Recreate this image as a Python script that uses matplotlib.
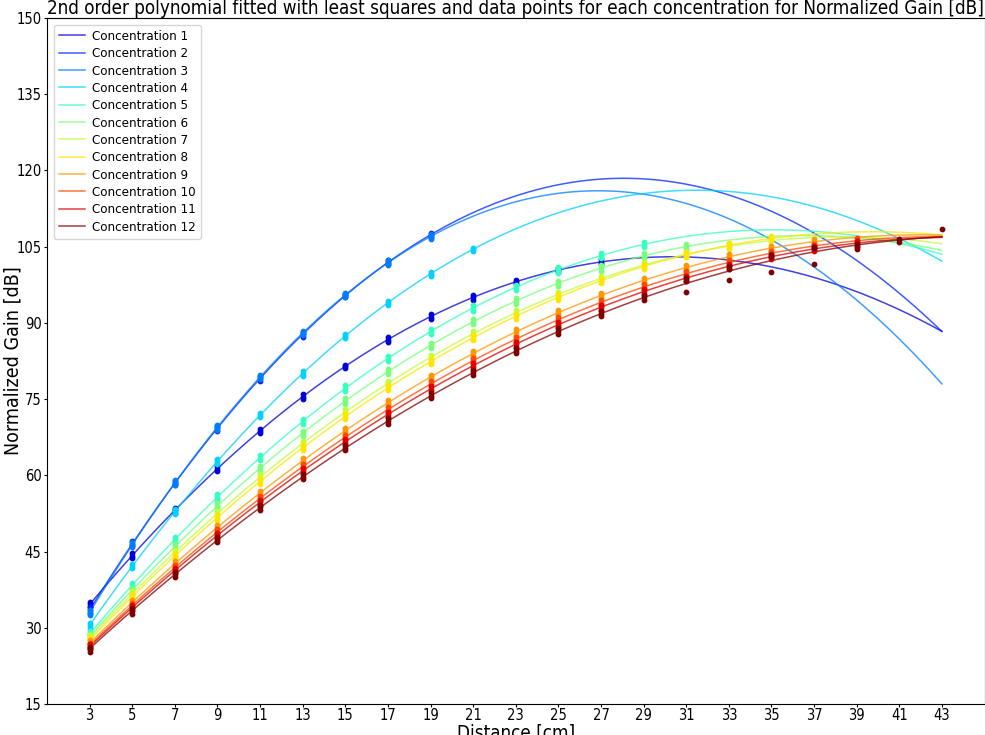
import matplotlib
matplotlib.use("Agg")
import matplotlib.pyplot as plt
from matplotlib import font_manager
import numpy as np

# distances where the gain was measured
distances = [3, 5, 7, 9, 11, 13, 15, 17, 19, 21, 23, 25, 27, 29, 31, 33, 35, 37, 39, 41, 43]

# normalized gain [dB], one row of replicates per distance (starting at 3 cm)
gain_c1 = [[34.1, 34.6, 35.0], [43.8, 44.2, 44.7], [52.6, 53.2, 53.6], [60.9, 61.3, 61.8],
           [68.4, 68.8, 69.1], [75.0, 75.5, 76.0], [81.1, 81.5, 81.8], [86.2, 86.7, 87.2],
           [90.8, 91.2, 91.7], [94.6, 95.0, 95.5], [97.6, 98.1, 98.5], [100.0, 100.4, 100.8],
           [101.5, 102.0, 102.5]]
gain_c2 = [[33.0, 33.5, 34.0], [46.0, 46.5, 47.0], [58.0, 58.4, 58.9], [68.8, 69.3, 69.8],
           [78.6, 79.1, 79.5], [87.3, 87.8, 88.2], [95.0, 95.4, 95.7], [101.5, 101.9, 102.3],
           [107.0, 107.3, 107.7]]
gain_c3 = [[32.5, 33.0, 33.5], [45.9, 46.3, 46.8], [58.0, 58.5, 59.0], [69.0, 69.5, 70.0],
           [78.9, 79.3, 79.8], [87.6, 88.0, 88.4], [95.1, 95.5, 95.9], [101.4, 101.8, 102.3],
           [106.6, 107.0, 107.4]]
gain_c4 = [[30.0, 30.5, 31.0], [41.7, 42.1, 42.5], [52.4, 52.9, 53.3], [62.3, 62.8, 63.2],
           [71.4, 71.8, 72.3], [79.6, 80.0, 80.5], [87.0, 87.4, 87.9], [93.5, 94.0, 94.4],
           [99.3, 99.7, 100.0], [104.2, 104.5, 104.8]]
gain_c5 = [[28.3, 28.8, 29.3], [37.9, 38.4, 38.9], [46.9, 47.4, 47.9], [55.2, 55.7, 56.3],
           [63.0, 63.5, 64.0], [70.1, 70.6, 71.1], [76.6, 77.1, 77.7], [82.5, 83.0, 83.5],
           [87.8, 88.3, 88.8], [92.4, 93.0, 93.5], [96.5, 97.0, 97.5], [99.9, 100.4, 101.0],
           [102.7, 103.2, 103.8], [104.9, 105.4, 106.0]]
gain_c6 = [[27.8, 28.3, 28.8], [36.9, 37.4, 37.9], [45.5, 46.0, 46.5], [53.5, 54.0, 54.5],
           [60.9, 61.4, 61.9], [67.8, 68.3, 68.8], [74.1, 74.6, 75.2], [79.9, 80.4, 80.9],
           [85.1, 85.6, 86.1], [89.7, 90.2, 90.7], [93.8, 94.3, 94.8], [97.3, 97.8, 98.3],
           [100.3, 100.8, 101.3], [102.7, 103.2, 103.7], [104.5, 105.0, 105.5]]
gain_c7 = [[27.5, 28.0, 28.5], [36.2, 36.7, 37.2], [44.3, 44.8, 45.3], [52.0, 52.5, 53.0],
           [59.2, 59.7, 60.2], [65.8, 66.3, 66.8], [72.0, 72.5, 73.0], [77.6, 78.1, 78.6],
           [82.7, 83.2, 83.7], [87.4, 87.9, 88.4], [91.5, 92.0, 92.5], [95.1, 95.6, 96.1],
           [98.2, 98.7, 99.2], [100.9, 101.4, 101.9], [103.0, 103.5, 104.0], [104.6, 105.1, 105.6]]
gain_c8 = [[27.1, 27.6, 28.1], [35.6, 36.1, 36.6], [43.7, 44.2, 44.7], [51.2, 51.7, 52.2],
           [58.3, 58.8, 59.3], [64.9, 65.4, 65.9], [71.0, 71.5, 72.0], [76.7, 77.2, 77.7],
           [81.9, 82.4, 82.9], [86.6, 87.1, 87.6], [90.8, 91.3, 91.8], [94.6, 95.1, 95.6],
           [97.8, 98.3, 98.8], [100.6, 101.1, 101.6], [102.9, 103.4, 103.9], [104.8, 105.3, 105.8],
           [106.1, 106.6, 107.1]]
gain_c9 = [[26.5, 27.0, 27.5], [34.5, 35.0, 35.5], [42.1, 42.6, 43.1], [49.3, 49.8, 50.3],
           [56.0, 56.5, 57.0], [62.4, 62.9, 63.4], [68.3, 68.8, 69.3], [73.8, 74.3, 74.8],
           [78.8, 79.3, 79.8], [83.5, 84.0, 84.5], [87.7, 88.2, 88.7], [91.5, 92.0, 92.5],
           [94.9, 95.4, 95.9], [97.9, 98.4, 98.9], [100.4, 100.9, 101.4], [102.5, 103.0, 103.5],
           [104.2, 104.7, 105.2], [105.5, 106.0, 106.5]]
gain_c10 = [[26.1, 26.6, 27.1], [33.9, 34.4, 34.9], [41.3, 41.8, 42.3], [48.4, 48.9, 49.4],
            [55.0, 55.5, 56.0], [61.2, 61.7, 62.2], [67.0, 67.5, 68.0], [72.4, 72.9, 73.4],
            [77.5, 78.0, 78.5], [82.1, 82.6, 83.1], [86.3, 86.8, 87.3], [90.1, 90.6, 91.1],
            [93.5, 94.0, 94.5], [96.6, 97.1, 97.6], [99.2, 99.7, 100.2], [101.4, 101.9, 102.4],
            [103.2, 103.7, 104.2], [104.6, 105.1, 105.6], [105.7, 106.2, 106.7]]
gain_c11 = [[25.8, 26.3, 26.8], [33.5, 34.0, 34.5], [40.8, 41.3, 41.8], [47.7, 48.2, 48.7],
            [54.2, 54.7, 55.2], [60.4, 60.9, 61.4], [66.1, 66.6, 67.1], [71.5, 72.0, 72.5],
            [76.5, 77.0, 77.5], [81.1, 81.6, 82.1], [85.3, 85.8, 86.3], [89.1, 89.6, 90.1],
            [92.6, 93.1, 93.6], [95.7, 96.2, 96.7], [98.3, 98.8, 99.3], [100.6, 101.1, 101.6],
            [102.5, 103.0, 103.5], [104.1, 104.6, 105.1], [105.2, 105.7, 106.2]]
gain_c12 = [[25.3, 25.8, 26.3], [32.8, 33.3, 33.8], [40.0, 40.5, 41.0], [46.8, 47.3, 47.8],
            [53.2, 53.7, 54.2], [59.2, 59.7, 60.2], [64.9, 65.4, 65.9], [70.2, 70.7, 71.2],
            [75.2, 75.7, 76.2], [79.8, 80.3, 80.8], [84.0, 84.5, 85.0], [87.9, 88.4, 88.9],
            [91.3, 91.8, 92.3], [94.5, 95.0, 95.5], [96.0, 98.3, 98.8], [98.5, 100.6, 101.2],
            [100.0, 103.0, 103.3], [101.5, 104.8, 105.0], [104.6, 105.0, 105.5], [106.0, 106.5],
            [108.5]]

gains = [gain_c1, gain_c2, gain_c3, gain_c4, gain_c5, gain_c6,
         gain_c7, gain_c8, gain_c9, gain_c10, gain_c11, gain_c12]
labels = ['Concentration %d' % (i + 1) for i in range(len(gains))]
colors = plt.cm.jet(np.linspace(0.08, 1.0, len(gains)))

# use the condensed cut of DejaVu if it is there (reference text is narrow)
condensed = any(f.name == 'DejaVu Sans' and f.stretch == 'condensed'
                for f in font_manager.fontManager.ttflist)
if condensed:
    plt.rcParams['font.stretch'] = 'condensed'
k = 1.0 if condensed else 0.85

fig = plt.figure(figsize=(9.85, 7.35), dpi=100)
ax = fig.add_axes([47 / 985, 31 / 735, 937.5 / 985, 686 / 735])

xfit = np.linspace(distances[0], distances[-1], 300)
for rows, col, lab in zip(gains, colors, labels):
    xs = []
    ys = []
    for d, reps in zip(distances, rows):
        for v in reps:
            xs.append(d)
            ys.append(v)
    p = np.polyfit(xs, ys, 2)
    ax.plot(xfit, np.polyval(p, xfit), color=col, lw=1.1, alpha=0.75, label=lab)
    ax.scatter(xs, ys, color=col, s=10, zorder=3)

ax.set_xlim(1, 45)
ax.set_ylim(15, 150)
ax.set_xticks(distances)
ax.set_yticks(np.arange(15, 151, 15))
ax.tick_params(labelsize=10.5 * k, length=2.5, pad=1.5)
ax.tick_params(axis='x', pad=0.5)
ax.set_xlabel('Distance [cm]', fontsize=13.5 * k, labelpad=0.5)
ax.set_ylabel('Normalized Gain [dB]', fontsize=14 * k)
ax.yaxis.set_label_coords(-0.026, 0.5)
ax.set_title('2nd order polynomial fitted with least squares and data points for each '
             'concentration for Normalized Gain [dB]', fontsize=13.5 * k, pad=3)
ax.legend(loc='upper left', fontsize=9.5 * k, labelspacing=0.33, handletextpad=0.5,
          borderaxespad=0.5)

fig.savefig('out.png', dpi=100)
